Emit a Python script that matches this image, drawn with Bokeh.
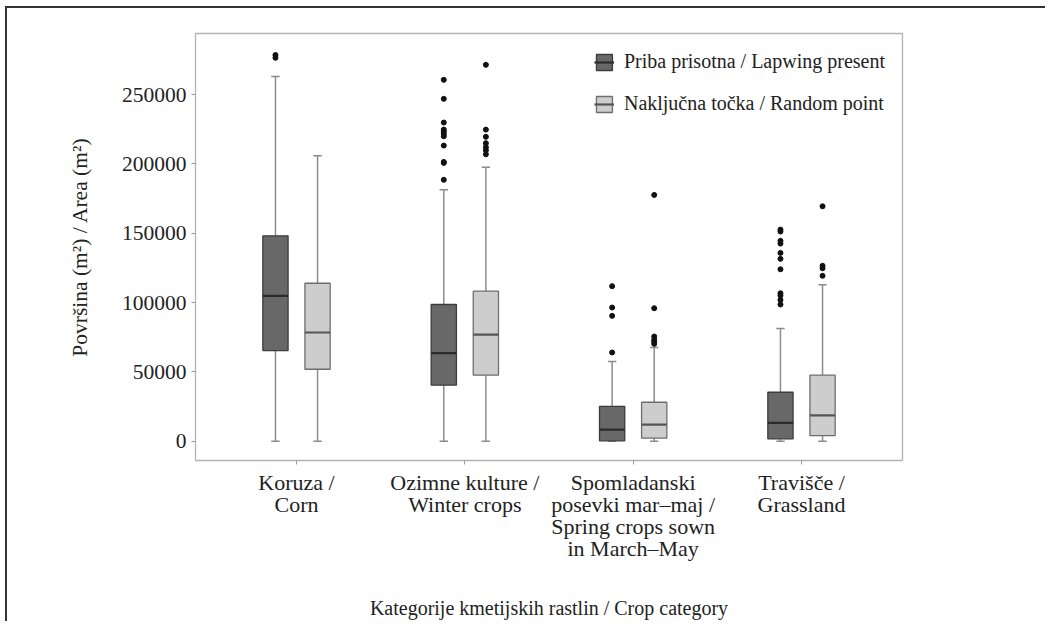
import math
from bokeh.plotting import figure
from bokeh.models import (Range1d, FixedTicker, ColumnDataSource, Legend, LegendItem,
                          NumeralTickFormatter)
from bokeh.embed import file_html
from bokeh.resources import INLINE

# ---------------- data ----------------
categories = ["Koruza /\nCorn",
              "Ozimne kulture /\nWinter crops",
              "Spomladanski\nposevki mar–maj /\nSpring crops sown\nin March–May",
              "Travišče /\nGrassland"]
groups = ["Priba prisotna / Lapwing present", "Naključna točka / Random point"]
y_ticks = [0, 50000, 100000, 150000, 200000, 250000]

# Lapwing present
present_low = [0, 0, 0, 0]
present_q1 = [65400, 40400, 300, 1700]
present_med = [104800, 63500, 8400, 13300]
present_q3 = [148100, 98600, 25200, 35300]
present_high = [263000, 181300, 57500, 81300]
present_out = [[276500, 278500],
               [260600, 246900, 229800, 224700, 223300, 221600, 219900, 213200, 201400, 200700, 188500],
               [111800, 96400, 90400, 64000],
               [152600, 151200, 144500, 142500, 135800, 131500, 124000, 106700, 105000, 101900, 98600]]

# Random point
random_low = [0, 0, 0, 0]
random_q1 = [51900, 47600, 2200, 4100]
random_med = [78400, 76900, 12000, 18700]
random_q3 = [113900, 108200, 28100, 47600]
random_high = [205800, 197600, 67600, 112800]
random_out = [[],
              [271400, 224700, 219500, 214900, 212000, 209800, 206900],
              [177600, 95900, 75500, 73100, 71900, 70200],
              [169400, 126500, 124700, 119300]]

# ---------------- styling ----------------
FONT = "Liberation Serif"
dodge = 0.125
box_w = 0.15
cap_w = 0.05
whisk_col = "#8c8c8c"

p = figure(width=1040, height=615,
           x_range=Range1d(0.4, 4.6), y_range=Range1d(-13900, 294000),
           output_backend="svg", toolbar_location=None,
           min_border_left=188, min_border_right=145,
           min_border_top=25, min_border_bottom=163,
           styles={"border-top": "2px solid #333333", "border-left": "2px solid #333333",
                   "margin-left": "5px", "margin-top": "6px"})
p.xgrid.visible = False
p.ygrid.visible = False
p.outline_line_color = "#b3b3b3"
p.outline_line_width = 1.3
p.background_fill_color = "white"
p.border_fill_color = "white"

series = [
    (present_low, present_q1, present_med, present_q3, present_high, present_out,
     -dodge, "#686868", "#3c3c3c", "#2a2a2a"),
    (random_low, random_q1, random_med, random_q3, random_high, random_out,
     dodge, "#cdcdcd", "#6e6e6e", "#555555"),
]

legend_items = []
for gi, (low, q1, med, q3, high, outs, off, fill, edge, medc) in enumerate(series):
    xs = [i + 1 + off for i in range(len(categories))]
    src = ColumnDataSource(dict(
        x=xs, low=low, q1=q1, med=med, q3=q3, high=high,
        xl=[x - box_w / 2 for x in xs], xr=[x + box_w / 2 for x in xs],
        cl=[x - cap_w / 2 for x in xs], cr=[x + cap_w / 2 for x in xs],
    ))
    # whiskers
    p.segment(x0="x", y0="q3", x1="x", y1="high", source=src, line_color=whisk_col, line_width=1.5)
    p.segment(x0="x", y0="q1", x1="x", y1="low", source=src, line_color=whisk_col, line_width=1.5)
    # caps
    p.segment(x0="cl", y0="high", x1="cr", y1="high", source=src, line_color=whisk_col, line_width=1.5)
    p.segment(x0="cl", y0="low", x1="cr", y1="low", source=src, line_color=whisk_col, line_width=1.5)
    # legend-only whisker icon (empty source)
    vl = p.scatter(x=[], y=[], marker="dash", size=30, angle=math.pi / 2,
                   line_color="#555555", line_width=1.5)
    # boxes
    box = p.vbar(x="x", width=box_w, top="q3", bottom="q1", source=src,
                 fill_color=fill, line_color=edge, line_width=1.3)
    med_r = p.segment(x0="xl", y0="med", x1="xr", y1="med", source=src,
                      line_color=medc, line_width=2.2)
    # outliers
    ox, oy = [], []
    for i, vals in enumerate(outs):
        for v in vals:
            ox.append(i + 1 + off)
            oy.append(v)
    p.scatter(x=ox, y=oy, size=5, fill_color="#111111", line_color="#111111")
    legend_items.append(LegendItem(label=groups[gi], renderers=[vl, box, med_r]))

legend = Legend(items=legend_items, location="top_right",
                border_line_color=None, background_fill_alpha=0,
                glyph_width=20, glyph_height=20, label_standoff=10, spacing=19,
                label_text_font=FONT, label_text_font_size="20px", label_text_color="#222222",
                padding=14, margin=17)
p.add_layout(legend)

# axes
p.xaxis.ticker = FixedTicker(ticks=[i + 1 for i in range(len(categories))])
p.xaxis.major_label_overrides = {i + 1: c for i, c in enumerate(categories)}
p.yaxis.ticker = FixedTicker(ticks=y_ticks)
p.yaxis.formatter = NumeralTickFormatter(format="0")
p.xaxis.axis_label = "Kategorije kmetijskih rastlin / Crop category"
p.yaxis.axis_label = "Površina (m²) / Area (m²)"
for ax in (p.xaxis, p.yaxis):
    ax.axis_line_color = None
    ax.major_tick_line_color = "#999999"
    ax.major_tick_out = 4
    ax.major_tick_in = 0
    ax.minor_tick_line_color = None
    ax.major_label_text_font = FONT
    ax.major_label_text_color = "#222222"
    ax.axis_label_text_font = FONT
    ax.axis_label_text_font_style = "normal"
    ax.axis_label_text_color = "#222222"
p.xaxis.major_label_text_font_size = "22px"
p.xaxis.major_label_text_line_height = 0.88
p.yaxis.major_label_text_font_size = "21.5px"
p.xaxis.axis_label_text_font_size = "20px"
p.yaxis.axis_label_text_font_size = "21.5px"
p.xaxis.major_label_standoff = 5
p.xaxis.axis_label_standoff = 33
p.yaxis.major_label_standoff = 5
p.yaxis.axis_label_standoff = 27

open("out.html", "w").write(file_html(p, INLINE))
